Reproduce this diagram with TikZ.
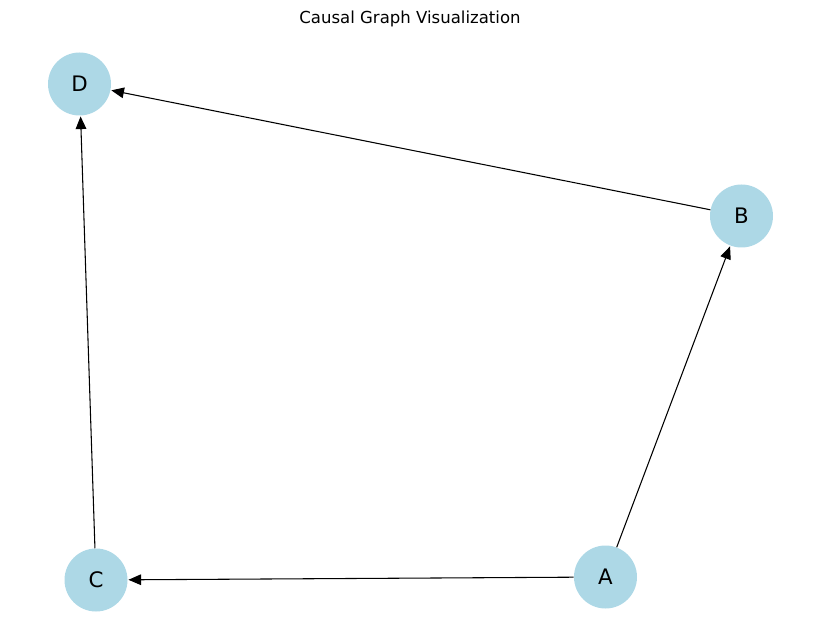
\documentclass[tikz,border=0pt]{standalone}
\usepackage{fontspec}
\setmainfont{DejaVu Sans}
\usepackage{xcolor}
\usetikzlibrary{arrows.meta,positioning}
\definecolor{nodeblue}{HTML}{ADD8E6}

\begin{document}
\begin{tikzpicture}[x=0.75pt, y=-0.75pt]
\tikzset{var/.style={circle, fill=nodeblue, minimum size=47.25pt, inner sep=0pt, font=\fontsize{16}{18}\selectfont},
  causes/.style={-{Triangle[length=9.5pt, width=8pt]}, line width=0.8pt, shorten >=0.5pt}}
\useasboundingbox (0,0) rectangle (819,642);
\node[anchor=base, font=\fontsize{12.4}{15}\selectfont] (title) at (410,24) {Causal Graph Visualization};
\node[var] (D) at (79.5,84) {D};
\node[var] (B) at (741.5,216) {B};
\node[var] (A) at (605.5,577) {A};
\node[var] (C) at (96,580) {C};
\draw[causes] (A) -- (B);
\draw[causes] (A) -- (C);
\draw[causes] (B) -- (D);
\draw[causes] (C) -- (D);
\end{tikzpicture}
\end{document}
